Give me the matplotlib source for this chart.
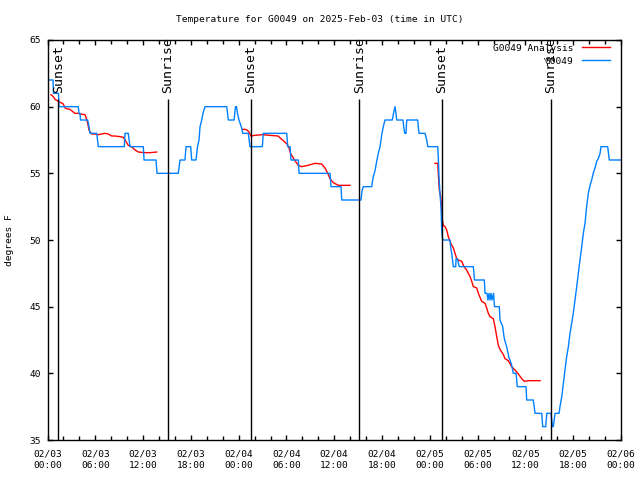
import matplotlib
matplotlib.use('Agg')
import matplotlib.pyplot as plt
import numpy as np
from matplotlib.ticker import MultipleLocator

plt.rcParams['font.family'] = 'DejaVu Sans Mono'
plt.rcParams['font.size'] = 6.8

# time axis: hours since 2025-02-03 00:00 UTC
obs_hours = [0.00, 0.69, 0.75, 1.38, 1.44, 3.87, 3.95, 4.08, 4.14, 5.05, 5.21, 5.34, 6.18, 6.38,
             9.64, 9.73, 10.14, 10.36, 12.03, 12.12, 13.62, 13.75, 16.42, 16.64, 17.26, 17.39,
             17.98, 18.10, 18.64, 18.83, 19.02, 19.15, 19.36, 19.52, 19.77, 22.50, 22.70, 23.42,
             23.60, 23.73, 23.85, 24.04, 24.38, 24.51, 25.21, 25.42, 26.97, 27.09, 30.03, 30.16,
             30.45, 30.57, 31.49, 31.58, 35.47, 35.59, 36.85, 36.94, 39.36, 39.49, 39.65, 40.70,
             40.90, 41.12, 41.33, 41.53, 41.75, 41.96, 42.16, 42.37, 43.29, 43.44, 43.63, 43.75,
             43.84, 44.63, 44.72, 44.85, 45.01, 45.10, 46.48, 46.55, 46.64, 47.40, 47.61, 47.74,
             48.99, 49.06, 49.15, 49.28, 49.40, 49.49, 49.62, 50.53, 50.62, 50.75, 50.95, 51.25,
             51.29, 51.45, 51.70, 53.46, 53.61, 54.84, 54.93, 55.18, 55.30, 55.43, 55.56, 55.68,
             55.81, 56.00, 56.12, 56.72, 56.81, 57.15, 57.31, 57.44, 57.65, 57.94, 58.07, 58.28,
             58.48, 58.82, 58.91, 58.98, 60.08, 60.16, 60.99, 61.21, 62.05, 62.17, 62.55, 62.68,
             63.21, 63.30, 63.40, 63.50, 63.72, 64.22, 64.34, 64.56, 64.76, 64.97, 65.18, 65.39,
             65.60, 65.81, 66.01, 66.23, 66.44, 66.64, 66.85, 67.07, 67.27, 67.48, 67.69, 67.90,
             68.11, 68.32, 68.53, 68.74, 68.95, 69.15, 69.37, 69.49, 70.33, 70.53, 72.00]
obs_temp = [62, 62, 61, 61, 60, 60, 59.5, 59.5, 59, 59, 58.5, 58, 58, 57,
            57, 58, 58, 57, 57, 56, 56, 55, 55, 56, 56, 57,
            57, 56, 56, 57, 57.5, 58.5, 59, 59.5, 60, 60, 59, 59,
            60, 60, 59.5, 59, 58.4, 58, 58, 57, 57, 58, 58, 57,
            57, 56, 56, 55, 55, 54, 54, 53, 53, 53.7, 54, 54,
            54.75, 55.2, 55.9, 56.5, 57, 57.9, 58.5, 59, 59, 59.5, 60, 59.5,
            59, 59, 58.5, 58, 58, 59, 59, 58.5, 58, 58, 57.5, 57,
            57, 56.25, 54.75, 53.4, 52.5, 50.75, 50, 50, 49.4, 49, 48, 48,
            48.6, 48.6, 48, 48, 47, 47, 46, 46, 45.5, 46, 45.5, 46,
            45.5, 46, 45, 45, 44, 43.5, 42.75, 42.4, 42, 41.15, 41, 40.6,
            40, 40, 39.5, 39, 39, 38, 38, 37, 37, 36, 36, 37,
            37, 36.5, 36, 36, 37, 37, 37.5, 38.25, 39.25, 40.25, 41.25, 42,
            43, 43.75, 44.5, 45.5, 46.5, 47.5, 48.5, 49.5, 50.5, 51.25, 52.5, 53.5,
            54.1, 54.5, 55.05, 55.4, 55.9, 56.1, 56.5, 57, 57, 56, 56]

# analysis runs (three separate runs)
ana1_hours = [0.44, 0.73, 0.94, 1.36, 1.69, 1.98, 2.20, 2.41, 2.82, 3.24, 3.45, 3.87, 4.08, 4.71,
              4.92, 5.05, 5.21, 5.34, 5.55, 5.96, 6.38, 6.80, 7.22, 7.63, 8.06, 8.47, 9.10, 9.52,
              9.73, 9.94, 10.14, 10.36, 10.65, 10.99, 11.40, 11.83, 12.24, 12.87, 13.71]
ana1_temp = [60.9, 60.75, 60.55, 60.4, 60.3, 60.2, 59.9, 59.85, 59.8, 59.6, 59.5, 59.5, 59.45, 59.4,
             59.05, 58.75, 58.25, 58.1, 57.95, 57.95, 57.9, 57.95, 58.0, 57.95, 57.8, 57.8, 57.75, 57.7,
             57.5, 57.3, 57.1, 57.05, 56.95, 56.75, 56.6, 56.57, 56.55, 56.55, 56.6]
ana2_hours = [24.51, 24.80, 25.05, 25.30, 25.55, 26.05, 26.93, 27.94, 28.94, 29.32, 29.69, 30.07,
              30.32, 30.51, 30.76, 31.07, 31.49, 31.91, 32.71, 33.58, 34.43, 34.84, 35.18, 35.47,
              35.88, 36.51, 37.35, 37.98]
ana2_temp = [58.3, 58.3, 58.25, 58.1, 57.8, 57.85, 57.9, 57.85, 57.8, 57.6, 57.4, 57.2,
             56.9, 56.5, 56.25, 55.95, 55.6, 55.5, 55.6, 55.75, 55.7, 55.4, 55.0, 54.6,
             54.3, 54.1, 54.1, 54.1]
ana3_hours = [48.65, 48.99, 49.06, 49.19, 49.37, 49.49, 49.57, 49.69, 49.91, 50.12, 50.32, 50.53,
              50.66, 50.95, 51.16, 51.38, 51.58, 52.00, 52.20, 52.42, 52.63, 52.83, 53.05, 53.26,
              53.46, 53.89, 54.09, 54.30, 54.51, 54.93, 55.14, 55.34, 55.56, 55.97, 56.18, 56.40,
              56.60, 56.81, 57.02, 57.23, 57.44, 57.85, 58.28, 58.69, 59.11, 59.54, 59.86, 60.36,
              61.83]
ana3_temp = [55.75, 55.75, 55.0, 53.75, 53.25, 52.25, 51.5, 51.1, 51.0, 50.75, 50.25, 49.9,
             49.7, 49.4, 49.0, 48.6, 48.5, 48.4, 48.1, 47.9, 47.75, 47.5, 47.25, 46.9,
             46.5, 46.4, 46.0, 45.7, 45.4, 45.25, 44.9, 44.5, 44.25, 44.1, 43.5, 42.75,
             42.1, 41.8, 41.6, 41.4, 41.1, 40.95, 40.5, 40.25, 39.95, 39.6, 39.4, 39.45,
             39.45]

sun_hours = [1.38, 15.13, 25.55, 39.17, 49.49, 63.21]
sun_names = ['Sunset', 'Sunrise', 'Sunset', 'Sunrise', 'Sunset', 'Sunrise']

tick_hours = list(range(0, 73, 6))
tick_labels = ['02/03\n00:00', '02/03\n06:00', '02/03\n12:00', '02/03\n18:00',
               '02/04\n00:00', '02/04\n06:00', '02/04\n12:00', '02/04\n18:00',
               '02/05\n00:00', '02/05\n06:00', '02/05\n12:00', '02/05\n18:00',
               '02/06\n00:00']

fig = plt.figure(figsize=(6.4, 4.8), dpi=100)
ax = fig.add_axes([47.5 / 640, 40 / 480, 573.5 / 640, 400 / 480])

red = '#ff0000'
blue = '#0080ff'
ax.plot(ana1_hours, ana1_temp, color=red, lw=1.0, label='G0049 Analysis')
ax.plot(ana2_hours, ana2_temp, color=red, lw=1.0)
ax.plot(ana3_hours, ana3_temp, color=red, lw=1.0)
ax.plot(obs_hours, obs_temp, color=blue, lw=1.0, label='G0049')

ax.vlines(sun_hours, 35, 60.6, color='black', lw=1.0, zorder=5)
for h, name in zip(sun_hours, sun_names):
    ax.text(h, 61.0, name, rotation=90, ha='center', va='bottom', fontsize=9.5)

ax.set_xlim(0, 72)
ax.set_ylim(35, 65)
ax.set_xticks(tick_hours)
ax.set_xticklabels(tick_labels, linespacing=1.35)
ax.xaxis.set_minor_locator(MultipleLocator(2))
ax.yaxis.set_major_locator(MultipleLocator(5))
ax.tick_params(which='both', direction='in', top=True, right=True, width=1.0)
ax.tick_params(which='major', length=3.5)
ax.tick_params(which='minor', length=3.0)
ax.tick_params(axis='x', pad=7)
ax.tick_params(axis='y', pad=4.5)
for s in ax.spines.values():
    s.set_linewidth(1.0)

fig.text(0.5, 1 - 19 / 480, 'Temperature for G0049 on 2025-Feb-03 (time in UTC)',
         ha='center', va='center')
fig.text(10 / 640, 0.5, 'degrees F', rotation=90, ha='center', va='center')

ax.legend(loc='upper right', bbox_to_anchor=(1 - 7 / 573.5, 1), frameon=False,
          markerfirst=False, handlelength=3.0, handletextpad=0.9,
          borderaxespad=0.2, borderpad=0.2, labelspacing=0.4)

fig.savefig('out.png', dpi=100)
